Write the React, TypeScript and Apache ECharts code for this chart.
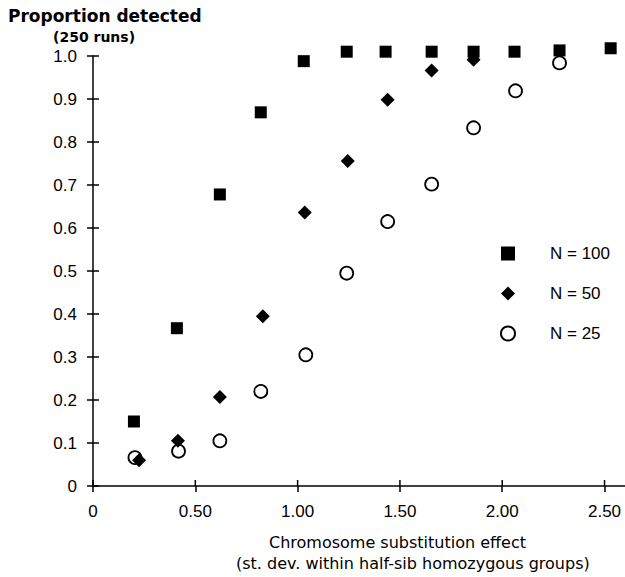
import React, { useEffect, useRef } from "react";
import * as echarts from "echarts";

const n100X = [0.2, 0.41, 0.62, 0.82, 1.03, 1.24, 1.43, 1.655, 1.86, 2.06, 2.28, 2.53];
const n100Y = [0.15, 0.367, 0.678, 0.869, 0.988, 1.01, 1.01, 1.01, 1.01, 1.01, 1.013, 1.018];
const n50X = [0.225, 0.415, 0.62, 0.83, 1.035, 1.245, 1.44, 1.655, 1.86];
const n50Y = [0.06, 0.105, 0.207, 0.395, 0.636, 0.756, 0.898, 0.966, 0.991];
const n25X = [0.205, 0.418, 0.62, 0.82, 1.04, 1.24, 1.44, 1.655, 1.86, 2.065, 2.28];
const n25Y = [0.066, 0.081, 0.105, 0.22, 0.305, 0.495, 0.615, 0.702, 0.833, 0.919, 0.984];
const xTicks = [0, 0.5, 1.0, 1.5, 2.0, 2.5];
const yTicks = [0, 0.1, 0.2, 0.3, 0.4, 0.5, 0.6, 0.7, 0.8, 0.9, 1.0];
const seriesNames = ["N = 100", "N = 50", "N = 25"];

const INK = "#000";
const TICK_FONT = "'Liberation Sans', Arial, sans-serif";
const NAME_FONT = "'DejaVu Sans', sans-serif";
const TICK_LEN = 6;

const pairs = (xs: number[], ys: number[]) => xs.map((x, i) => [x, ys[i]]);

// inner halves of the crossing tick marks: [x, y, axisFlag] (0 = x-axis tick, 1 = y-axis tick)
const innerTickData = [
  ...xTicks.map((v) => [v, 0, 0]),
  ...yTicks.map((v) => [0, v, 1]),
];

export default function App() {
  const ref = useRef<HTMLDivElement>(null);
  useEffect(() => {
    if (!ref.current) return;
    const chart = echarts.init(ref.current, undefined, { renderer: "svg" });
    chart.setOption({
      animation: false,
      backgroundColor: "#fff",
      title: [
        {
          text: "Proportion detected",
          left: 8,
          top: 6,
          padding: 0,
          textStyle: { fontFamily: NAME_FONT, fontSize: 17, fontWeight: "bold", color: INK, lineHeight: 20 },
        },
        {
          text: "(250 runs)",
          left: 53,
          top: 29,
          padding: 0,
          textStyle: { fontFamily: NAME_FONT, fontSize: 14, fontWeight: "bold", color: INK, lineHeight: 16 },
        },
        {
          text: "Chromosome substitution effect",
          left: 269,
          top: 533,
          padding: 0,
          textStyle: { fontFamily: NAME_FONT, fontSize: 16, fontWeight: "normal", color: INK, lineHeight: 18 },
        },
        {
          text: "(st. dev. within half-sib homozygous groups)",
          left: 236,
          top: 554,
          padding: 0,
          textStyle: { fontFamily: NAME_FONT, fontSize: 16, fontWeight: "normal", color: INK, lineHeight: 18 },
        },
      ],
      legend: {
        data: seriesNames,
        orient: "vertical",
        left: 495,
        top: 240,
        itemWidth: 14,
        itemHeight: 14,
        itemGap: 23,
        textStyle: { fontFamily: TICK_FONT, fontSize: 17, color: INK, lineHeight: 14, padding: [0, 0, 0, 30] },
      },
      grid: { left: 93, right: 0, top: 56, bottom: 91, containLabel: false },
      xAxis: {
        type: "value",
        min: 0,
        max: 2.6,
        splitLine: { show: false },
        axisLine: { show: true, lineStyle: { color: INK, width: 1.5 } },
        axisTick: { show: true, inside: false, length: TICK_LEN, lineStyle: { color: INK, width: 1.5 }, customValues: xTicks },
        axisLabel: {
          show: true,
          margin: 17,
          customValues: xTicks,
          fontFamily: TICK_FONT,
          fontSize: 17,
          color: INK,
          formatter: (v: number) => (v === 0 ? "0" : v.toFixed(2)),
        },
      },
      yAxis: {
        type: "value",
        min: 0,
        max: 1,
        interval: 0.1,
        splitLine: { show: false },
        axisLine: { show: true, lineStyle: { color: INK, width: 1.5 } },
        axisTick: { show: true, inside: false, length: TICK_LEN, lineStyle: { color: INK, width: 1.5 } },
        axisLabel: {
          show: true,
          margin: 16,
          fontFamily: TICK_FONT,
          fontSize: 17,
          color: INK,
          formatter: (v: number) => (v === 0 ? "0" : v.toFixed(1)),
        },
      },
      series: [
        {
          name: "inner ticks",
          type: "custom",
          silent: true,
          clip: false,
          z: 10,
          data: innerTickData,
          renderItem: (params: any, api: any) => {
            const p = api.coord([api.value(0), api.value(1)]);
            const isY = api.value(2) === 1;
            return {
              type: "line",
              shape: isY
                ? { x1: p[0], y1: p[1], x2: p[0] + TICK_LEN, y2: p[1] }
                : { x1: p[0], y1: p[1], x2: p[0], y2: p[1] - TICK_LEN },
              style: { stroke: INK, lineWidth: 1.5 },
            };
          },
        },
        {
          name: seriesNames[2],
          type: "scatter",
          clip: false,
          symbol: "circle",
          symbolSize: 13,
          itemStyle: { color: "#fff", borderColor: INK, borderWidth: 1.8, opacity: 1 },
          data: pairs(n25X, n25Y),
        },
        {
          name: seriesNames[1],
          type: "scatter",
          clip: false,
          symbol: "diamond",
          symbolSize: 14,
          itemStyle: { color: INK, opacity: 1 },
          data: pairs(n50X, n50Y),
        },
        {
          name: seriesNames[0],
          type: "scatter",
          clip: false,
          symbol: "rect",
          symbolSize: 12,
          itemStyle: { color: INK, opacity: 1 },
          data: pairs(n100X, n100Y),
        },
      ],
    });
    return () => chart.dispose();
  }, []);
  return <div ref={ref} style={{ position: "absolute", left: 0, top: 0, width: 625, height: 577 }} />;
}
